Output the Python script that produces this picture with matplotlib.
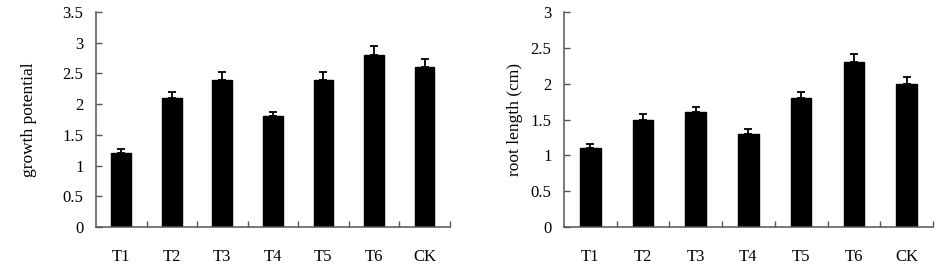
import numpy as np
import matplotlib
matplotlib.use("Agg")
from matplotlib import pyplot as plt

groups = ["T1", "T2", "T3", "T4", "T5", "T6", "CK"]
growth = [1.2, 2.1, 2.4, 1.8, 2.4, 2.8, 2.6]
growth_err = [0.07, 0.1, 0.12, 0.08, 0.12, 0.14, 0.13]
root = [1.1, 1.5, 1.6, 1.3, 1.8, 2.3, 2.0]
root_err = [0.06, 0.08, 0.08, 0.07, 0.09, 0.12, 0.1]

plt.rcParams['font.family'] = ['Liberation Serif', 'DejaVu Serif']
plt.rcParams['font.size'] = 12

fig = plt.figure(figsize=(9.41, 2.76), dpi=100)
ax1 = fig.add_axes([0.102, 0.1775, 0.376, 0.779])
ax2 = fig.add_axes([0.5994, 0.1775, 0.392, 0.779])

def draw(ax, vals, errs, ymax, ystep, ylabel, labx):
    x = np.arange(len(groups))
    ax.bar(x, vals, width=0.39, color='black', edgecolor='black', zorder=2)
    ax.errorbar(x, vals, yerr=[np.zeros(len(vals)), errs], fmt='none',
                ecolor='black', elinewidth=1.3, capsize=3, capthick=1.3, zorder=3)
    ax.set_xlim(-0.5, len(groups) - 0.5)
    ax.set_ylim(0, ymax)
    ax.set_yticks(np.arange(0, ymax + 0.001, ystep))
    ax.set_yticklabels(["%g" % v for v in np.arange(0, ymax + 0.001, ystep)])
    ax.set_xticks(x)
    ax.set_xticklabels(groups)
    ax.set_xticks(np.arange(0.5, len(groups), 1), minor=True)
    ax.tick_params(axis='x', which='major', length=0, pad=16)
    ax.tick_params(axis='x', which='minor', direction='in', length=4, width=1, color='#555555')
    ax.tick_params(axis='y', direction='in', length=4, width=1, color='#555555', pad=9)
    for s in ['top', 'right']:
        ax.spines[s].set_visible(False)
    for s in ['left', 'bottom']:
        ax.spines[s].set_color('#555555')
        ax.spines[s].set_linewidth(1.1)
    ax.set_ylabel(ylabel, fontsize=12.5)
    ax.yaxis.set_label_coords(labx, 0.5)

draw(ax1, growth, growth_err, 3.5, 0.5, "growth potential", -0.167)
draw(ax2, root, root_err, 3.0, 0.5, "root length (cm)", -0.111)

plt.savefig("out.png", dpi=100)
